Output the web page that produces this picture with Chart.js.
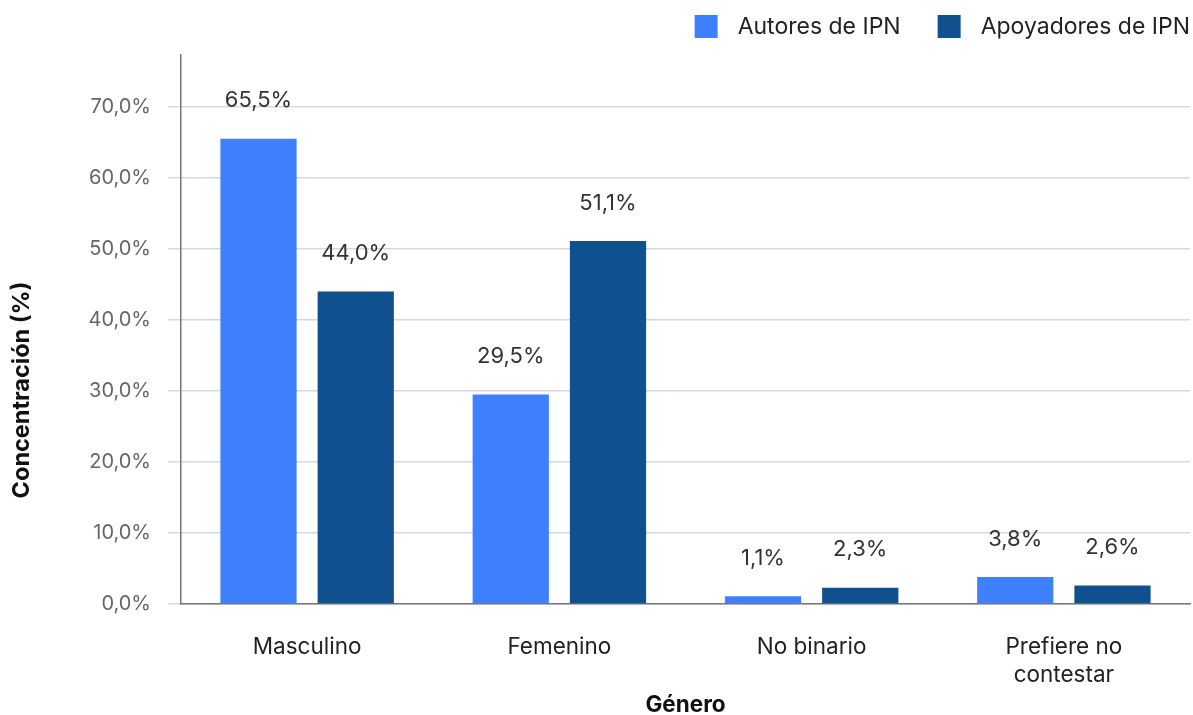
<!DOCTYPE html>
<html>
<head>
<meta charset="utf-8">
<script src="https://cdn.jsdelivr.net/npm/chart.js@4.4.1/dist/chart.umd.min.js"></script>
<style>
  html, body { margin: 0; padding: 0; background: #fff; }
  #wrap { width: 1193px; height: 715px; }
</style>
</head>
<body>
<div id="wrap"><canvas id="myChart"></canvas></div>
<script>
const categories = ['Masculino', 'Femenino', 'No binario', ['Prefiere no', 'contestar']]
const autores = [65.5, 29.5, 1.1, 3.8]
const apoyadores = [44.0, 51.1, 2.3, 2.6]
const seriesNames = ['Autores de IPN', 'Apoyadores de IPN']
const yTicks = [0, 10, 20, 30, 40, 50, 60, 70]

const FONT = 'Inter, "Noto Sans", sans-serif'
const pct = v => v.toFixed(1).replace('.', ',') + '%'

// etiquetas encima de las barras
const valueLabels = {
  id: 'valueLabels',
  afterDatasetsDraw(chart) {
    const ctx = chart.ctx
    ctx.save()
    ctx.font = '22px ' + FONT
    ctx.fillStyle = '#333'
    ctx.textAlign = 'center'
    ctx.textBaseline = 'middle'
    chart.data.datasets.forEach((ds, i) => {
      chart.getDatasetMeta(i).data.forEach((bar, j) => {
        ctx.fillText(pct(ds.data[j]), bar.x, bar.y - 38)
      })
    })
    ctx.restore()
  }
}

// leyenda y titulos de ejes
const extras = {
  id: 'extras',
  afterDraw(chart) {
    const ctx = chart.ctx
    ctx.save()
    ctx.font = '23px ' + FONT
    ctx.textBaseline = 'middle'
    ctx.textAlign = 'left'
    const right = chart.width - 3
    const items = chart.data.datasets.map(ds => ({
      text: ds.label, color: ds.backgroundColor, w: ctx.measureText(ds.label).width
    }))
    let x = right
    for (let k = items.length - 1; k >= 0; k--) {
      const it = items[k]
      x -= it.w
      ctx.fillStyle = '#222'
      ctx.fillText(it.text, x, 27)
      x -= 20 + 23
      ctx.fillStyle = it.color
      ctx.fillRect(x, 15, 23, 23)
      x -= 37
    }

    ctx.fillStyle = '#111'
    ctx.font = 'bold 22.5px ' + FONT
    ctx.textAlign = 'center'
    const area = chart.chartArea
    ctx.fillText('Género', (area.left + area.right) / 2, 705)

    ctx.font = 'bold 23.5px ' + FONT
    ctx.translate(22, 390)
    ctx.rotate(-Math.PI / 2)
    ctx.fillText('Concentración (%)', 0, 0)
    ctx.restore()
  }
}

new Chart(document.getElementById('myChart').getContext('2d'), {
  type: 'bar',
  data: {
    labels: categories,
    datasets: [
      { label: seriesNames[0], data: autores, backgroundColor: '#3e80ff' },
      { label: seriesNames[1], data: apoyadores, backgroundColor: '#0e518e' }
    ]
  },
  options: {
    responsive: true,
    maintainAspectRatio: false,
    animation: false,
    categoryPercentage: 0.771,
    barPercentage: 0.784,
    layout: { padding: { top: 55, right: 3, left: 0, bottom: 0 } },
    plugins: {
      legend: { display: false },
      tooltip: { enabled: false }
    },
    scales: {
      x: {
        grid: { display: false, drawTicks: false },
        border: { display: true, color: '#777', width: 1.5 },
        ticks: { color: '#222', font: { family: FONT, size: 22.5, lineHeight: 1.25 }, padding: 29, maxRotation: 0 },
        afterFit(scale) { scale.height = 111 }
      },
      y: {
        min: 0,
        max: 77.3,
        afterBuildTicks(scale) { scale.ticks = yTicks.map(v => ({ value: v })) },
        grid: { color: '#d6d6e4', lineWidth: 1.5, tickLength: 13 },
        border: { display: true, color: '#777', width: 1.5 },
        ticks: { color: '#666', font: { family: FONT, size: 20 }, padding: 17, callback: v => pct(v) },
        afterFit(scale) { scale.width = 181 }
      }
    }
  },
  plugins: [valueLabels, extras]
})
</script>
</body>
</html>
